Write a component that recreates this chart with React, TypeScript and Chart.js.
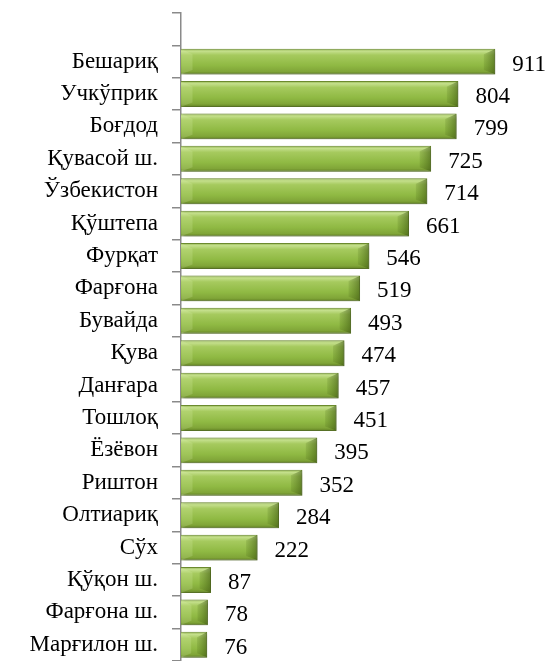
import React, { useEffect, useRef } from "react";
import { Chart, registerables } from "chart.js";

Chart.register(...registerables);

const categories: string[] = [
  "",
  "Бешариқ",
  "Учкўприк",
  "Боғдод",
  "Қувасой ш.",
  "Ўзбекистон",
  "Қўштепа",
  "Фурқат",
  "Фарғона",
  "Бувайда",
  "Қува",
  "Данғара",
  "Тошлоқ",
  "Ёзёвон",
  "Риштон",
  "Олтиариқ",
  "Сўх",
  "Қўқон ш.",
  "Фарғона ш.",
  "Марғилон ш.",
];

const values: (number | null)[] = [
  null, 911, 804, 799, 725, 714, 661, 546, 519, 493, 474, 457, 451, 395, 352, 284, 222, 87, 78, 76,
];

const FONT = '"Liberation Serif"';
const FONT_SIZE = 23;

const shadowPlugin = {
  id: "barShadow",
  beforeDatasetsDraw(chart: any) {
    const ctx = chart.ctx;
    ctx.save();
    ctx.shadowColor = "rgba(0,0,0,0.28)";
    ctx.shadowBlur = 4;
    ctx.shadowOffsetX = 2;
    ctx.shadowOffsetY = 2;
  },
  afterDatasetsDraw(chart: any) {
    chart.ctx.restore();
  },
};

const barDecor = {
  id: "barDecor",
  afterDatasetsDraw(chart: any) {
    const ctx = chart.ctx;
    const meta = chart.getDatasetMeta(0);
    ctx.save();
    meta.data.forEach((el: any, i: number) => {
      const v = values[i];
      if (v == null) return;
      const h = el.height;
      const top = el.y - h / 2 + 0.5;
      const bot = el.y + h / 2 - 0.5;
      const right = el.x - 0.5;
      const left = el.base + 0.5;
      const b = Math.min(11, (right - left) / 2.6);
      const gr = ctx.createLinearGradient(right - b, 0, right, 0);
      gr.addColorStop(0, "rgba(70,100,20,0.15)");
      gr.addColorStop(1, "rgba(55,80,12,0.55)");
      ctx.fillStyle = gr;
      ctx.beginPath();
      ctx.moveTo(right - b, top + 5);
      ctx.lineTo(right, top);
      ctx.lineTo(right, bot);
      ctx.lineTo(right - b, bot - 4);
      ctx.closePath();
      ctx.fill();
      ctx.fillStyle = "rgba(225,245,180,0.2)";
      ctx.beginPath();
      ctx.moveTo(left, top);
      ctx.lineTo(left + b, top + 5);
      ctx.lineTo(left + b, bot - 4);
      ctx.lineTo(left, bot);
      ctx.closePath();
      ctx.fill();
    });
    ctx.font = `${FONT_SIZE}px ${FONT}`;
    ctx.fillStyle = "#000";
    ctx.textAlign = "left";
    ctx.textBaseline = "alphabetic";
    meta.data.forEach((el: any, i: number) => {
      const v = values[i];
      if (v == null) return;
      ctx.fillText(String(v), el.x + 17, el.y + 9);
    });
    ctx.restore();
  },
};

export default function App() {
  const ref = useRef<HTMLCanvasElement | null>(null);

  useEffect(() => {
    if (!ref.current) return;
    const chart = new Chart(ref.current, {
      type: "bar",
      data: {
        labels: categories,
        datasets: [
          {
            data: values as any,
            backgroundColor: (c: any) => {
              const ch = c.chart;
              if (!ch.chartArea) return "#8db843";
              const y = ch.scales.y.getPixelForValue(c.dataIndex);
              const h = 13;
              const g = ch.ctx.createLinearGradient(0, y - h, 0, y + h);
              g.addColorStop(0, "#8fb24a");
              g.addColorStop(0.1, "#c4df8c");
              g.addColorStop(0.25, "#a6ca5e");
              g.addColorStop(0.65, "#8fb943");
              g.addColorStop(0.88, "#80a538");
              g.addColorStop(1, "#5f7f22");
              return g;
            },
            borderColor: "#6f8f30",
            borderWidth: 1,
            barPercentage: 0.8,
            categoryPercentage: 1,
          },
        ],
      },
      options: {
        indexAxis: "y",
        animation: false,
        responsive: false,
        maintainAspectRatio: false,
        layout: { padding: { top: 13, right: 29, bottom: 0, left: 0 } },
        plugins: {
          legend: { display: false },
          tooltip: { enabled: false },
        },
        scales: {
          x: { display: false, min: 0, max: 1000 },
          y: {
            afterFit: (s: any) => {
              s.width = 181;
              s.paddingTop = 0;
              s.paddingBottom = 0;
            },
            border: { display: true, color: "#8a8a8a", width: 1.5 },
            grid: {
              drawOnChartArea: false,
              drawTicks: true,
              tickLength: 9,
              color: "#8a8a8a",
              lineWidth: 1.5,
              offset: true,
            },
            ticks: {
              color: "#000",
              padding: 14,
              autoSkip: false,
              font: { family: FONT, size: FONT_SIZE },
            },
          },
        },
      },
      plugins: [shadowPlugin, barDecor],
    });
    const redraw = () => {
      try {
        chart.update();
      } catch (e) {}
    };
    const fonts: any = (document as any).fonts;
    if (fonts) {
      if (fonts.load) fonts.load(`${FONT_SIZE}px ${FONT}`, "Бешариқ 911").then(redraw, () => null);
      if (fonts.ready) fonts.ready.then(redraw);
    }
    const t1 = setTimeout(redraw, 50);
    const t2 = setTimeout(redraw, 250);
    return () => {
      clearTimeout(t1);
      clearTimeout(t2);
      chart.destroy();
    };
  }, []);

  return (
    <div style={{ position: "fixed", left: 0, top: 0, width: 555, height: 661, background: "#fff" }}>
      <canvas ref={ref} width={555} height={661} style={{ position: "absolute", left: 0, top: 0 }} />
    </div>
  );
}
